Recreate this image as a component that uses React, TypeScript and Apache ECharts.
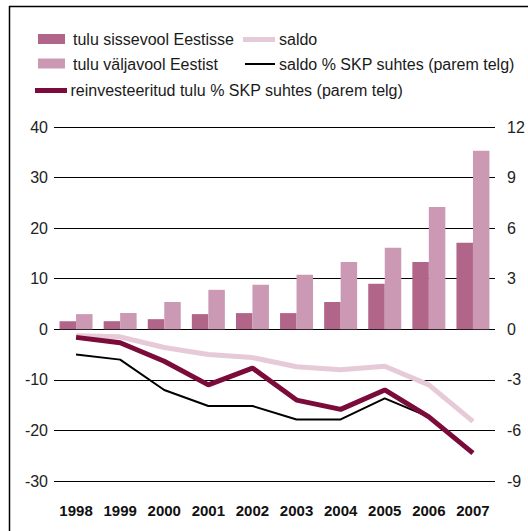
import React, { useEffect, useRef } from "react";
import * as echarts from "echarts";

const years = ["1998", "1999", "2000", "2001", "2002", "2003", "2004", "2005", "2006", "2007"];
const inflow = [1.6, 1.6, 2.0, 3.0, 3.2, 3.2, 5.4, 9.0, 13.3, 17.1];
const outflow = [3.0, 3.2, 5.4, 7.8, 8.8, 10.8, 13.3, 16.1, 24.2, 35.3];
const saldo = [-1.3, -1.5, -3.6, -5.0, -5.6, -7.4, -8.0, -7.3, -11.0, -18.2];
const saldoGdp = [-1.5, -1.8, -3.6, -4.55, -4.55, -5.35, -5.35, -4.1, -5.2, -7.3];
const reinvGdp = [-0.48, -0.8, -1.9, -3.3, -2.3, -4.2, -4.75, -3.6, -5.2, -7.35];
const leftTicks = { min: -30, max: 40, interval: 10 };
const rightTicks = { min: -9, max: 12, interval: 3 };

const names = {
  inflow: "tulu sissevool Eestisse",
  outflow: "tulu väljavool Eestist",
  saldo: "saldo",
  saldoGdp: "saldo % SKP suhtes (parem telg)",
  reinv: "reinvesteeritud tulu % SKP suhtes (parem telg)",
};

const colors = {
  inflow: "#b06589",
  outflow: "#cc99b4",
  saldo: "#e6cad7",
  saldoGdp: "#000000",
  reinv: "#7a0b3b",
};

const FONT = "'Liberation Sans', Arial, Helvetica, sans-serif";

export default function App() {
  const ref = useRef<HTMLDivElement>(null);
  useEffect(() => {
    if (!ref.current) return;
    const chart = echarts.init(ref.current, null, { renderer: "svg" });
    const txt = (x: number, y: number, t: string) => ({
      type: "text",
      x,
      y,
      style: { text: t, font: `16px ${FONT}`, fill: "#1a1a1a", verticalAlign: "middle" },
    });
    chart.setOption({
      animation: false,
      textStyle: { fontFamily: FONT },
      grid: { left: 54, right: 33, top: 127, bottom: 50, containLabel: false },
      xAxis: {
        type: "category",
        data: years,
        axisLine: { show: false },
        axisTick: { show: false },
        axisLabel: { fontSize: 15, fontWeight: "bold", color: "#111", margin: 22, fontFamily: FONT },
      },
      yAxis: [
        {
          type: "value",
          ...leftTicks,
          axisLine: { show: false },
          axisTick: { show: false },
          splitLine: { lineStyle: { color: "#000", width: 1 } },
          axisLabel: { fontSize: 16, color: "#222", margin: 6, fontFamily: FONT },
        },
        {
          type: "value",
          ...rightTicks,
          axisLine: { show: false },
          axisTick: { show: false },
          splitLine: { show: false },
          axisLabel: { fontSize: 16, color: "#222", margin: 12, fontFamily: FONT },
        },
      ],
      series: [
        { name: names.inflow, type: "bar", data: inflow, barWidth: 16.5, barGap: "0%", itemStyle: { color: colors.inflow } },
        { name: names.outflow, type: "bar", data: outflow, barWidth: 16.5, barGap: "0%", itemStyle: { color: colors.outflow } },
        { name: names.saldo, type: "line", data: saldo, yAxisIndex: 0, symbol: "none", lineStyle: { color: colors.saldo, width: 5 } },
        { name: names.saldoGdp, type: "line", data: saldoGdp, yAxisIndex: 1, symbol: "none", lineStyle: { color: colors.saldoGdp, width: 2 } },
        { name: names.reinv, type: "line", data: reinvGdp, yAxisIndex: 1, symbol: "none", lineStyle: { color: colors.reinv, width: 5 } },
      ],
      graphic: [
        { type: "line", shape: { x1: 9, y1: 6.5, x2: 528, y2: 6.5 }, style: { stroke: "#000", lineWidth: 1.5 } },
        { type: "line", shape: { x1: 9.5, y1: 6, x2: 9.5, y2: 531 }, style: { stroke: "#000", lineWidth: 1.5 } },
        { type: "rect", shape: { x: 38, y: 34, width: 27, height: 10 }, style: { fill: colors.inflow } },
        txt(73, 39.5, names.inflow),
        { type: "line", shape: { x1: 243, y1: 39.5, x2: 275, y2: 39.5 }, style: { stroke: colors.saldo, lineWidth: 5 } },
        txt(279, 39.5, names.saldo),
        { type: "rect", shape: { x: 38, y: 58.5, width: 27, height: 10 }, style: { fill: colors.outflow } },
        txt(73, 64, names.outflow),
        { type: "line", shape: { x1: 245, y1: 64, x2: 275, y2: 64 }, style: { stroke: colors.saldoGdp, lineWidth: 2 } },
        txt(279, 64, names.saldoGdp),
        { type: "line", shape: { x1: 35, y1: 90.5, x2: 67, y2: 90.5 }, style: { stroke: colors.reinv, lineWidth: 5 } },
        txt(70.5, 90.5, names.reinv),
      ],
    });
    return () => chart.dispose();
  }, []);
  return (
    <div
      ref={ref}
      style={{ position: "fixed", left: 0, top: 0, width: 528, height: 531, background: "#fff" }}
    />
  );
}
